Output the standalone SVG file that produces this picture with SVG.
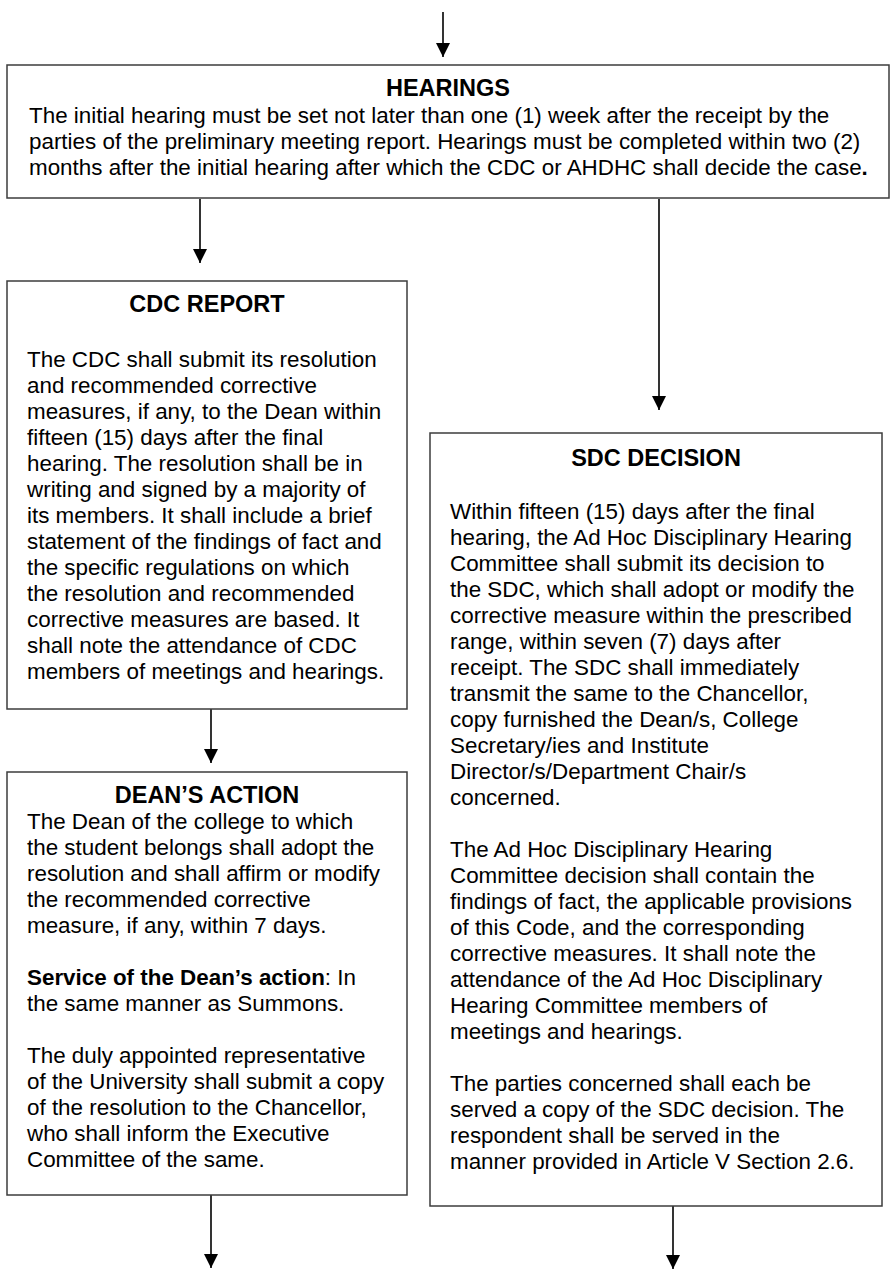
<svg xmlns="http://www.w3.org/2000/svg" width="891" height="1269" viewBox="0 0 891 1269">
<defs>
<marker id="ah" viewBox="0 0 14 14" refX="14" refY="7" markerWidth="14" markerHeight="14" markerUnits="userSpaceOnUse" orient="auto">
<path d="M0,0 L14,7 L0,14 Z" fill="#000"/>
</marker>
<style>
.box{fill:#fff;stroke:#3c3c3c;stroke-width:1.5}
.t{font-family:"Liberation Sans",Arial,sans-serif;font-size:22.4px;fill:#000}
.h{font-family:"Liberation Sans",Arial,sans-serif;font-size:23.5px;font-weight:bold;fill:#000;text-anchor:middle}
.b{font-weight:bold}
.c{stroke:#000;stroke-width:1.6;fill:none;marker-end:url(#ah)}
</style>
</defs>
<rect width="891" height="1269" fill="#fff"/>
<g id="connectors">
<line class="c" x1="443" y1="12" x2="443" y2="57"/>
<line class="c" x1="200" y1="199" x2="200" y2="263"/>
<line class="c" x1="659" y1="199" x2="659" y2="410"/>
<line class="c" x1="211" y1="709" x2="211" y2="763"/>
<line class="c" x1="211" y1="1195" x2="211" y2="1268"/>
<line class="c" x1="673" y1="1206" x2="673" y2="1269"/>
</g>
<g id="hearings">
<rect class="box" x="7" y="65" width="882" height="133"/>
<text class="h" x="448" y="96">HEARINGS</text>
<text class="t" x="29" y="122.5">The initial hearing must be set not later than one (1) week after the receipt by the</text>
<text class="t" x="29" y="148.5">parties of the preliminary meeting report. Hearings must be completed within two (2)</text>
<text class="t" x="29" y="174.5">months after the initial hearing after which the CDC or AHDHC shall decide the case<tspan class="b">.</tspan></text>
</g>
<g id="cdc-report">
<rect class="box" x="7" y="281" width="400" height="428"/>
<text class="h" x="207" y="312">CDC REPORT</text>
<text class="t" x="27" y="367">The CDC shall submit its resolution</text>
<text class="t" x="27" y="393">and recommended corrective</text>
<text class="t" x="27" y="419">measures, if any, to the Dean within</text>
<text class="t" x="27" y="445">fifteen (15) days after the final</text>
<text class="t" x="27" y="471">hearing. The resolution shall be in</text>
<text class="t" x="27" y="497">writing and signed by a majority of</text>
<text class="t" x="27" y="523">its members. It shall include a brief</text>
<text class="t" x="27" y="549">statement of the findings of fact and</text>
<text class="t" x="27" y="575">the specific regulations on which</text>
<text class="t" x="27" y="601">the resolution and recommended</text>
<text class="t" x="27" y="627">corrective measures are based. It</text>
<text class="t" x="27" y="653">shall note the attendance of CDC</text>
<text class="t" x="27" y="679">members of meetings and hearings.</text>
</g>
<g id="deans-action">
<rect class="box" x="7" y="772" width="400" height="423"/>
<text class="h" x="207" y="803">DEAN’S ACTION</text>
<text class="t" x="27" y="829">The Dean of the college to which</text>
<text class="t" x="27" y="855">the student belongs shall adopt the</text>
<text class="t" x="27" y="881">resolution and shall affirm or modify</text>
<text class="t" x="27" y="907">the recommended corrective</text>
<text class="t" x="27" y="933">measure, if any, within 7 days.</text>
<text class="t" x="27" y="985"><tspan class="b">Service of the Dean’s action</tspan>: In</text>
<text class="t" x="27" y="1011">the same manner as Summons.</text>
<text class="t" x="27" y="1063">The duly appointed representative</text>
<text class="t" x="27" y="1089">of the University shall submit a copy</text>
<text class="t" x="27" y="1115">of the resolution to the Chancellor,</text>
<text class="t" x="27" y="1141">who shall inform the Executive</text>
<text class="t" x="27" y="1167">Committee of the same.</text>
</g>
<g id="sdc-decision">
<rect class="box" x="430" y="433" width="452" height="773"/>
<text class="h" x="656" y="466">SDC DECISION</text>
<text class="t" x="450" y="519">Within fifteen (15) days after the final</text>
<text class="t" x="450" y="545">hearing, the Ad Hoc Disciplinary Hearing</text>
<text class="t" x="450" y="571">Committee shall submit its decision to</text>
<text class="t" x="450" y="597">the SDC, which shall adopt or modify the</text>
<text class="t" x="450" y="623">corrective measure within the prescribed</text>
<text class="t" x="450" y="649">range, within seven (7) days after</text>
<text class="t" x="450" y="675">receipt. The SDC shall immediately</text>
<text class="t" x="450" y="701">transmit the same to the Chancellor,</text>
<text class="t" x="450" y="727">copy furnished the Dean/s, College</text>
<text class="t" x="450" y="753">Secretary/ies and Institute</text>
<text class="t" x="450" y="779">Director/s/Department Chair/s</text>
<text class="t" x="450" y="805">concerned.</text>
<text class="t" x="450" y="857">The Ad Hoc Disciplinary Hearing</text>
<text class="t" x="450" y="883">Committee decision shall contain the</text>
<text class="t" x="450" y="909">findings of fact, the applicable provisions</text>
<text class="t" x="450" y="935">of this Code, and the corresponding</text>
<text class="t" x="450" y="961">corrective measures. It shall note the</text>
<text class="t" x="450" y="987">attendance of the Ad Hoc Disciplinary</text>
<text class="t" x="450" y="1013">Hearing Committee members of</text>
<text class="t" x="450" y="1039">meetings and hearings.</text>
<text class="t" x="450" y="1091">The parties concerned shall each be</text>
<text class="t" x="450" y="1117">served a copy of the SDC decision. The</text>
<text class="t" x="450" y="1143">respondent shall be served in the</text>
<text class="t" x="450" y="1169">manner provided in Article V Section 2.6.</text>
</g>
</svg>
